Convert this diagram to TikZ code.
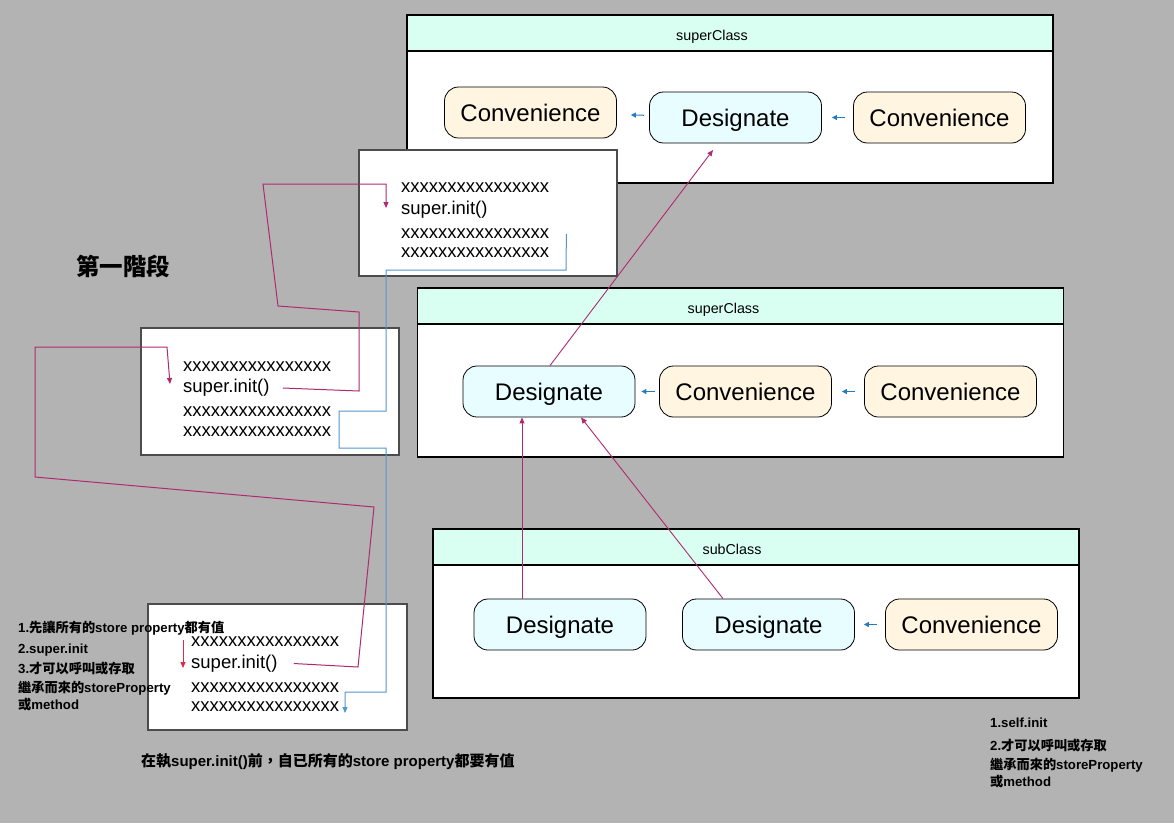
\documentclass[tikz,border=0pt]{standalone}
\usepackage{fontspec}
\setmainfont{Liberation Sans}
\newfontfamily\cjk{Noto Sans CJK TC}
\usepackage{xcolor}
\usetikzlibrary{arrows.meta,positioning}
\definecolor{bggray}{RGB}{179,179,179}
\definecolor{headfill}{RGB}{217,255,243}
\definecolor{desfill}{RGB}{232,253,255}
\definecolor{convfill}{RGB}{255,245,225}
\definecolor{callcol}{RGB}{176,42,112}
\definecolor{retcol}{RGB}{84,150,206}
\definecolor{chaincol}{RGB}{38,122,192}
\definecolor{notecol}{RGB}{212,48,72}
\newcommand{\fs}[1]{\fontsize{#1}{#1}\selectfont}
\tikzset{
  classbody/.style={draw, fill=white, line width=1.1pt},
  classhead/.style={draw, fill=headfill, line width=1.1pt, minimum height=36pt, inner sep=0pt, text height=14pt, text depth=0pt, font=\fs{14.3}},
  desig/.style={draw, rounded corners=14pt, fill=desfill, line width=0.8pt, minimum width=172pt, minimum height=51pt, inner sep=0pt, text height=17.2pt, text depth=0pt, font=\fs{24}},
  conv/.style={desig, fill=convfill},
  codebox/.style={draw=black!70, fill=white, line width=1.3pt},
  codeline/.style={anchor=west, inner sep=0pt, text height=9.6pt, text depth=0pt, font=\fs{18.5}},
  note/.style={anchor=west, inner sep=0pt, text height=6pt, text depth=0pt, font=\bfseries\fs{13.2}},
  callarrow/.style={draw=callcol, line width=1pt, -{Triangle[length=6pt,width=5pt]}},
  retarrow/.style={draw=retcol, line width=1pt, -{Triangle[length=6pt,width=5pt]}},
  inherit/.style={draw=callcol, line width=0.9pt, -{Triangle[length=6pt,width=5pt]}},
  chainarrow/.style={draw=chaincol, line width=1pt, -{Triangle[length=5pt,width=5pt]}},
}
\begin{document}
\begin{tikzpicture}[x=1pt,y=-1pt]
\fill[bggray] (0,0) rectangle (1174,823);

% top superClass
\node[classbody, minimum width=646pt, minimum height=168pt] (sup1) at (730,99) {};
\node[classhead, minimum width=646pt, anchor=north] (sup1h) at (sup1.north) {superClass\hspace*{36pt}};
\node[conv] (sup1c1) at (530.5,112.5) {Convenience};
\node[desig] (sup1d) at (735.5,117.5) {Designate};
\node[conv] (sup1c2) at (939.5,117.5) {Convenience};
\draw[chainarrow, shorten <=5pt, shorten >=14pt] (sup1d) -- (sup1c1);
\draw[chainarrow, shorten <=8pt, shorten >=10pt] (sup1c2) -- (sup1d);

% middle superClass
\node[classbody, minimum width=646pt, minimum height=169pt] (sup2) at (740.5,372.5) {};
\node[classhead, minimum width=646pt, anchor=north] (sup2h) at (sup2.north) {superClass\hspace*{34pt}};
\node[desig] (sup2d) at (549,391.5) {Designate};
\node[conv] (sup2c1) at (745.5,391.5) {Convenience};
\node[conv] (sup2c2) at (950.5,391.5) {Convenience};
\draw[chainarrow, shorten <=4pt, shorten >=6pt] (sup2c1) -- (sup2d);
\draw[chainarrow, shorten <=9pt, shorten >=10pt] (sup2c2) -- (sup2c1);

% subClass
\node[classbody, minimum width=646pt, minimum height=169pt] (sub) at (756,613.5) {};
\node[classhead, minimum width=646pt, anchor=north] (subh) at (sub.north) {subClass\hspace*{48pt}};
\node[desig] (subd1) at (560,624.5) {Designate};
\node[desig] (subd2) at (768.5,624.5) {Designate};
\node[conv] (subc) at (971.5,624.5) {Convenience};
\draw[chainarrow, shorten <=8pt, shorten >=9pt] (subc) -- (subd2);

% init chain between classes
\coordinate (sup1tip) at (713,150);
\draw[inherit] (sup2d.north -| 550,0) -- (sup1tip);
\draw[inherit] (subd1.north -| 522,0) -- (sup2d.south -| 522,0);
\draw[inherit] (subd2.north -| 723,0) -- (sup2d.south -| 581,0);

% code boxes
\node[codebox, minimum width=258pt, minimum height=126pt] (box1) at (488,213) {};
\node[codeline] (b1l1) at (401,188) {xxxxxxxxxxxxxxxx};
\node[codeline] (b1init) at (401,210) {super.init()};
\node[codeline] (b1l3) at (401,234) {xxxxxxxxxxxxxxxx};
\node[codeline] (b1l4) at (401,253) {xxxxxxxxxxxxxxxx};

\node[codebox, minimum width=258pt, minimum height=127pt] (box2) at (270,391.5) {};
\node[codeline] (b2l1) at (183,367) {xxxxxxxxxxxxxxxx};
\node[codeline] (b2init) at (183,388) {super.init()};
\node[codeline] (b2l3) at (183,412) {xxxxxxxxxxxxxxxx};
\node[codeline] (b2l4) at (183,432) {xxxxxxxxxxxxxxxx};

\node[codebox, minimum width=259pt, minimum height=126pt] (box3) at (277.5,667) {};
\node[codeline] (b3l1) at (191,642) {xxxxxxxxxxxxxxxx};
\node[codeline] (b3init) at (191,663.5) {super.init()};
\node[codeline] (b3l3) at (191,688) {xxxxxxxxxxxxxxxx};
\node[codeline] (b3l4) at (191,707) {xxxxxxxxxxxxxxxx};

% marks beside the code lines
\coordinate (b1mark) at (386,208);
\coordinate (b2mark) at (170,384);
\coordinate (b3mark) at (345,713);
\coordinate (notetop) at (183,640);
\coordinate (notebot) at (183,668);

% super.init() calls and returns
\draw[callarrow] ([xshift=13pt]b2init.east) -- (359,391) -- (359,312) -- (278,306) -- (263,184) -- (386,184) -- (b1mark);
\draw[callarrow] ([xshift=16pt]b3init.east) -- (358,667) -- (374,507) -- (35,477) -- (35,347) -- (167,347) -- (b2mark);
\draw[retarrow] ([xshift=17pt]b1l3.east) -- (566,270) -- (386,270) -- (386,411) -- (339,411) -- (339,448) -- (386,448) -- (386,692) -- (345,692) -- (b3mark);
\draw[draw=notecol, line width=1pt, -{Triangle[length=6pt,width=5pt]}] (notetop) -- (notebot);

% texts
\node[font=\cjk\bfseries\fs{23.5}] (stage) at (123,266) {第一階段};
\node[note] (n1) at (18,629) {1.{\cjk 先讓所有的}store property{\cjk 都有值}};
\node[note] (n2) at (18,650) {2.super.init};
\node[note] (n3) at (18,670) {3.{\cjk 才可以呼叫或存取}};
\node[note] (n4) at (18,689) {{\cjk 繼承而來的}storeProperty};
\node[note] (n5) at (18,706) {{\cjk 或}method};
\node[note, font=\bfseries\fs{15}] (rule) at (141,763) {{\cjk 在執}super.init(){\cjk 前，自已所有的}store property{\cjk 都要有值}};
\node[note] (r1) at (990,724) {1.self.init};
\node[note] (r2) at (990,747) {2.{\cjk 才可以呼叫或存取}};
\node[note] (r3) at (990,766) {{\cjk 繼承而來的}storeProperty};
\node[note] (r4) at (990,783) {{\cjk 或}method};
\end{tikzpicture}
\end{document}
